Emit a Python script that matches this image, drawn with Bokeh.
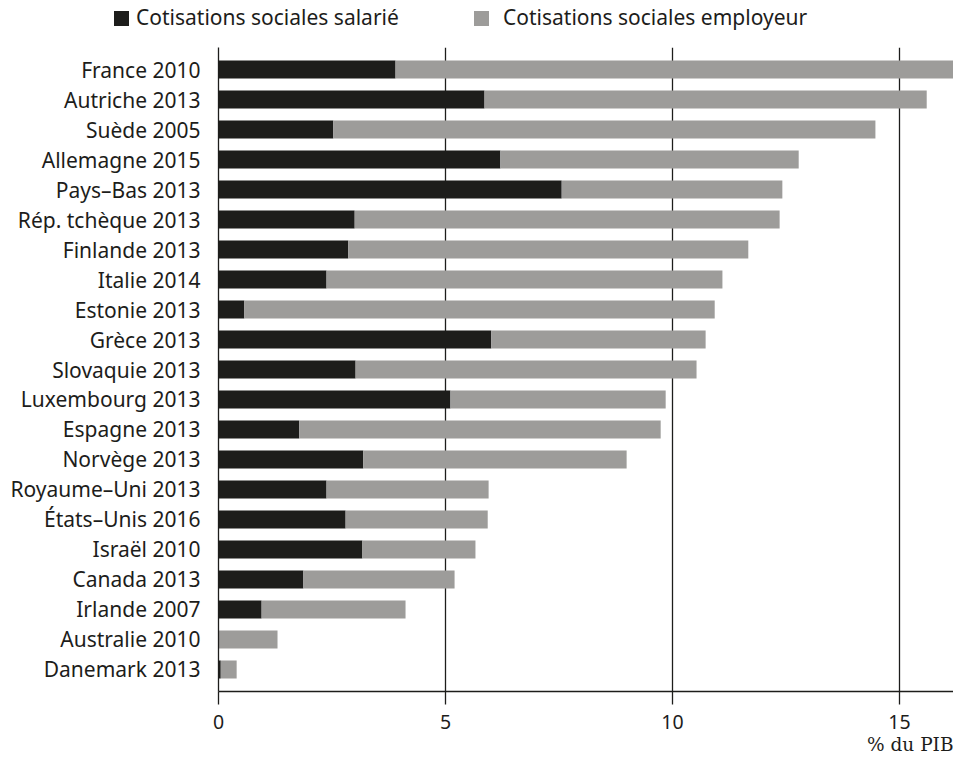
from bokeh.plotting import figure
from bokeh.layouts import column
from bokeh.models import (ColumnDataSource, FactorRange, Range1d, Title, FixedTicker, Div)
from bokeh.embed import file_html
from bokeh.resources import INLINE

countries = ["France 2010", "Autriche 2013", "Suède 2005", "Allemagne 2015", "Pays–Bas 2013",
             "Rép. tchèque 2013", "Finlande 2013", "Italie 2014", "Estonie 2013", "Grèce 2013",
             "Slovaquie 2013", "Luxembourg 2013", "Espagne 2013", "Norvège 2013",
             "Royaume–Uni 2013", "États–Unis 2016", "Israël 2010", "Canada 2013",
             "Irlande 2007", "Australie 2010", "Danemark 2013"]
salarie = [3.90, 5.86, 2.53, 6.21, 7.56, 3.00, 2.86, 2.38, 0.57, 6.01, 3.02, 5.11, 1.78, 3.19,
           2.38, 2.80, 3.17, 1.87, 0.95, 0.00, 0.05]
employeur = [12.40, 9.74, 11.94, 6.57, 4.86, 9.36, 8.81, 8.72, 10.36, 4.72, 7.51, 4.74, 7.96, 5.80,
             3.57, 3.13, 2.49, 3.33, 3.17, 1.30, 0.35]
x_ticks = [0, 5, 10, 15]
series_names = ["Cotisations sociales salarié", "Cotisations sociales employeur"]
colors = ["#1d1d1b", "#9d9c9a"]

FONT = "Noto Sans"
TXT = "#1d1d1b"

source = ColumnDataSource(data=dict(pays=countries, salarie=salarie, employeur=employeur))
y_factors = list(reversed(countries))

# ---------------- main chart ----------------
p = figure(width=953, height=711, output_backend="svg", toolbar_location=None,
           y_range=FactorRange(factors=y_factors, range_padding=0.235,
                               range_padding_units="absolute"),
           x_range=Range1d(0, 16.19),
           min_border_left=218, min_border_right=0, min_border_top=0, min_border_bottom=67)

renderers = p.hbar_stack(["salarie", "employeur"], y="pays", height=0.6, color=colors,
                         line_color=None, source=source)

p.outline_line_color = None
p.background_fill_color = "white"

p.xaxis.ticker = FixedTicker(ticks=x_ticks)
p.xaxis.minor_tick_line_color = None
p.xaxis.major_tick_in = 0
p.xaxis.major_tick_out = 13
p.xaxis.major_tick_line_color = "#1d1d1b"
p.xaxis.major_tick_line_width = 1.3
p.xaxis.axis_line_color = "#1d1d1b"
p.xaxis.axis_line_width = 1.3
p.xaxis.major_label_text_font = FONT
p.xaxis.major_label_text_font_size = "19.5px"
p.xaxis.major_label_text_color = TXT
p.xaxis.major_label_standoff = 10

p.yaxis.major_tick_line_color = None
p.yaxis.minor_tick_line_color = None
p.yaxis.axis_line_color = "#1d1d1b"
p.yaxis.axis_line_width = 1.3
p.yaxis.major_label_text_font = FONT
p.yaxis.major_label_text_font_size = "21px"
p.yaxis.major_label_text_color = TXT
p.yaxis.major_label_standoff = 12

p.ygrid.grid_line_color = None
p.xgrid.ticker = FixedTicker(ticks=x_ticks[1:])
p.xgrid.grid_line_color = "#1d1d1b"
p.xgrid.grid_line_width = 1.3
p.xgrid.level = "underlay"

unit = Title(text="% du PIB", align="right", text_font="DejaVu Serif",
             text_font_size="18.5px", text_font_style="normal", text_color=TXT,
             standoff=0, offset=0)
p.add_layout(unit, "below")

# ---------------- legend strip ----------------
legend_pos = [(114, 136), (474, 503)]
items = []
for (sq_x, tx_x), name, col in zip(legend_pos, series_names, colors):
    items.append(
        f'<span style="position:absolute;left:{sq_x}px;top:11px;width:15px;height:15px;'
        f'background:{col};"></span>'
        f'<span style="position:absolute;left:{tx_x}px;top:7px;line-height:21px;'
        f'white-space:nowrap;">{name}</span>')
legend_html = (f'<div style="position:relative;width:953px;height:47px;'
               f'font-family:\'{FONT}\';font-size:21px;color:{TXT};">' + "".join(items) + '</div>')
legend_div = Div(text=legend_html, width=953, height=47, margin=0)

layout = column(legend_div, p, spacing=0)

open("out.html", "w").write(file_html(layout, INLINE))
